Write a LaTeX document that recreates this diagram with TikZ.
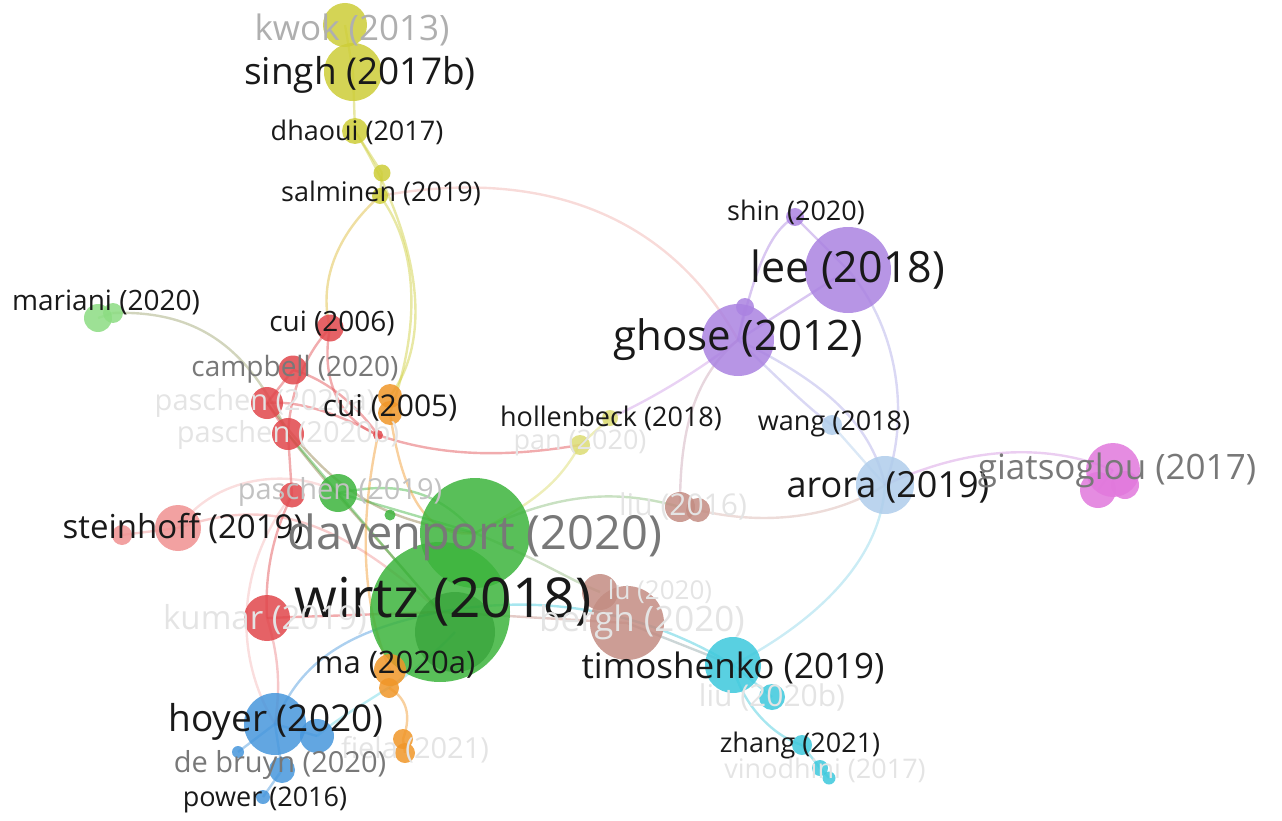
\documentclass[tikz,border=0pt]{standalone}
\usepackage{fontspec}
\setmainfont{Open Sans}
\newcommand\lfs[1]{\fontsize{#1}{#1}\selectfont}
\definecolor{cyel}{RGB}{205,205,55}
\definecolor{cpur}{RGB}{170,130,225}
\definecolor{clbl}{RGB}{175,205,235}
\definecolor{cpink}{RGB}{225,120,220}
\definecolor{cbrn}{RGB}{195,140,130}
\definecolor{ccyan}{RGB}{60,200,220}
\definecolor{cgrn}{RGB}{60,180,60}
\definecolor{cdgrn}{RGB}{40,150,45}
\definecolor{clgrn}{RGB}{140,220,130}
\definecolor{cred}{RGB}{225,70,75}
\definecolor{clred}{RGB}{240,145,145}
\definecolor{corg}{RGB}{240,150,40}
\definecolor{cblue}{RGB}{70,150,220}
\definecolor{tblk}{RGB}{25,25,25}
\definecolor{tgry}{RGB}{120,120,120}
\definecolor{tlgry}{RGB}{175,175,175}
\definecolor{tfnt}{RGB}{228,228,228}
\tikzset{
  bub/.style={circle,inner sep=0pt,draw=none,fill opacity=0.85,minimum size=#1},
  e/.style={line width=2.4pt,draw opacity=0.45},
  lbl/.style={inner sep=0pt,text=tblk},
}
\begin{document}
\begin{tikzpicture}[x=1pt,y=-1pt]
\useasboundingbox (0,0) rectangle (1282,821);
% ---- bubbles (positions only, drawn later) ----
\path
 (345,25) coordinate (p-kwok)
 (353,72) coordinate (p-singh)
 (355,131) coordinate (p-dhaoui)
 (382,173) coordinate (p-salm1)
 (380,196) coordinate (p-salm2)
 (610,418) coordinate (p-hollen)
 (580,445) coordinate (p-pan)
 (795,217) coordinate (p-shin)
 (848,270) coordinate (p-lee)
 (738,340) coordinate (p-ghose)
 (745,307) coordinate (p-ghose2)
 (832,425) coordinate (p-wang)
 (885,485) coordinate (p-arora)
 (1113,470) coordinate (p-giat)
 (1098,490) coordinate (p-giat2)
 (1125,485) coordinate (p-giat3)
 (680,507) coordinate (p-liu16)
 (698,510) coordinate (p-liu16b)
 (600,592) coordinate (p-brs)
 (627,623) coordinate (p-brb)
 (733,665) coordinate (p-timo)
 (772,697) coordinate (p-liu20b)
 (802,745) coordinate (p-zhang)
 (820,768) coordinate (p-vin1)
 (829,778) coordinate (p-vin2)
 (475,533) coordinate (p-dav)
 (440,612) coordinate (p-wirtz)
 (455,632) coordinate (p-wirtz2)
 (338,493) coordinate (p-pas19)
 (390,515) coordinate (p-sgrn)
 (98,318) coordinate (p-mar1)
 (113,313) coordinate (p-mar2)
 (330,328) coordinate (p-cui06)
 (293,370) coordinate (p-camp)
 (267,403) coordinate (p-pas20a)
 (288,434) coordinate (p-pas20b)
 (378,435) coordinate (p-sred)
 (292,495) coordinate (p-red495)
 (178,528) coordinate (p-stein)
 (122,535) coordinate (p-stein2)
 (267,618) coordinate (p-kumar)
 (390,396) coordinate (p-cui05a)
 (390,413) coordinate (p-cui05b)
 (390,670) coordinate (p-ma1)
 (389,688) coordinate (p-ma2)
 (403,739) coordinate (p-fie1)
 (405,753) coordinate (p-fie2)
 (275,724) coordinate (p-hoyer)
 (317,736) coordinate (p-hoyer2)
 (238,752) coordinate (p-bsm)
 (282,770) coordinate (p-debr)
 (263,797) coordinate (p-power);
% ---- edges ----
\draw[e,cyel] (p-kwok) -- (p-singh);
\draw[e,cyel] (p-singh) -- (p-dhaoui);
\draw[e,cyel] (p-dhaoui) -- (p-salm1);
\draw[e,cyel] (p-salm1) -- (p-salm2);
\draw[e,cyel] (p-dhaoui) .. controls (410,220) and (440,330) .. (p-cui05a);
\draw[e,cyel!60!corg] (p-salm2) .. controls (330,240) and (320,290) .. (p-cui06);
\draw[e,cyel] (p-salm2) .. controls (420,250) and (420,330) .. (p-cui05b);
\draw[e,corg!50!cpink,draw opacity=0.3] (p-salm2) .. controls (520,170) and (660,200) .. (p-ghose);
\draw[e,cpur!60!cpink,draw opacity=0.35] (p-hollen) .. controls (650,400) and (700,370) .. (p-ghose);
\draw[e,cyel,draw opacity=0.35] (p-hollen) -- (p-pan);
\draw[e,cyel,draw opacity=0.35] (p-pan) .. controls (560,480) and (540,500) .. (p-dav);
\draw[e,cred] (p-sred) .. controls (450,460) and (520,455) .. (p-pan);
\draw[e,cred] (p-cui06) .. controls (320,380) and (340,420) .. (p-sred);
\draw[e,cred] (p-cui06) .. controls (300,360) and (290,400) .. (p-pas20b);
\draw[e,cred] (p-camp) -- (p-pas20a);
\draw[e,cred] (p-camp) .. controls (330,380) and (360,410) .. (p-sred);
\draw[e,cred] (p-pas20a) .. controls (300,400) and (340,415) .. (p-sred);
\draw[e,cred] (p-pas20a) -- (p-pas20b);
\draw[e,cred] (p-pas20b) -- (p-red495);
\draw[e,cred!50!cgrn] (p-pas20b) .. controls (330,490) and (380,540) .. (p-wirtz);
\draw[e,cred!50!cgrn] (p-pas20a) .. controls (320,470) and (360,520) .. (p-dav);
\draw[e,cgrn] (p-pas20b) -- (p-pas19);
\draw[e,cgrn] (p-pas19) -- (p-dav);
\draw[e,cgrn] (p-pas19) -- (p-wirtz);
\draw[e,cgrn] (p-pas19) .. controls (380,485) and (430,480) .. (p-dav);
\draw[e,cred!40!cgrn,draw opacity=0.35] (p-mar2) .. controls (200,310) and (250,350) .. (p-pas20b);
\draw[e,clred] (p-stein) .. controls (260,500) and (330,510) .. (p-wirtz);
\draw[e,clred] (p-stein) -- (p-stein2);
\draw[e,clred,draw opacity=0.3] (p-stein) .. controls (220,470) and (300,470) .. (p-pas19);
\draw[e,cred] (p-red495) .. controls (270,540) and (265,580) .. (p-kumar);
\draw[e,cred] (p-kumar) -- (p-wirtz);
\draw[e,cred,draw opacity=0.3] (p-kumar) .. controls (280,660) and (280,690) .. (p-hoyer);
\draw[e,clred,draw opacity=0.3] (p-red495) .. controls (240,560) and (230,650) .. (p-hoyer);
\draw[e,corg] (p-sred) .. controls (360,520) and (360,600) .. (p-ma1);
\draw[e,corg] (p-cui05b) .. controls (400,480) and (420,540) .. (p-dav);
\draw[e,corg] (p-ma2) .. controls (410,700) and (410,720) .. (p-fie1);
\draw[e,corg] (p-fie1) -- (p-fie2);
\draw[e,cblue] (p-hoyer) .. controls (300,660) and (350,630) .. (p-wirtz);
\draw[e,cblue] (p-hoyer) -- (p-hoyer2);
\draw[e,cblue] (p-hoyer) -- (p-bsm);
\draw[e,cblue] (p-hoyer) -- (p-debr);
\draw[e,cblue] (p-debr) -- (p-power);
\draw[e,ccyan,draw opacity=0.35] (p-hoyer2) .. controls (360,700) and (400,690) .. (p-wirtz2);
\draw[e,cpur] (p-ghose) -- (p-ghose2);
\draw[e,cpur] (p-ghose) -- (p-lee);
\draw[e,cpur] (p-ghose) .. controls (755,270) and (770,230) .. (p-shin);
\draw[e,cpur] (p-shin) -- (p-lee);
\draw[e,cpur!50!clbl] (p-ghose) .. controls (780,380) and (810,410) .. (p-wang);
\draw[e,clbl] (p-wang) -- (p-arora);
\draw[e,cpur!50!clbl] (p-ghose) .. controls (820,380) and (870,420) .. (p-arora);
\draw[e,cpur!50!clbl] (p-lee) .. controls (900,330) and (910,420) .. (p-arora);
\draw[e,cbrn!70!cpur,draw opacity=0.35] (p-ghose) .. controls (690,380) and (680,440) .. (p-liu16);
\draw[e,cbrn,draw opacity=0.3] (p-liu16b) .. controls (760,525) and (830,520) .. (p-arora);
\draw[e,cpink!70!clbl] (p-arora) .. controls (960,450) and (1040,440) .. (p-giat);
\draw[e,cpink] (p-giat) -- (p-giat2);
\draw[e,ccyan!60!clbl,draw opacity=0.35] (p-arora) .. controls (880,570) and (800,630) .. (p-timo);
\draw[e,cgrn!70!cbrn,draw opacity=0.35] (p-dav) .. controls (560,490) and (620,490) .. (p-liu16);
\draw[e,cgrn!60!cbrn,draw opacity=0.35] (p-dav) .. controls (540,560) and (570,580) .. (p-brs);
\draw[e,ccyan] (p-wirtz) .. controls (560,590) and (660,620) .. (p-timo);
\draw[e,cbrn!60!ccyan] (p-brb) -- (p-timo);
\draw[e,cbrn] (p-wirtz) -- (p-brb);
\draw[e,ccyan] (p-timo) .. controls (740,700) and (770,735) .. (p-zhang);
\draw[e,ccyan] (p-timo) -- (p-liu20b);
\draw[e,ccyan] (p-zhang) -- (p-vin1);
\draw[e,ccyan] (p-vin1) -- (p-vin2);
\draw[e,clgrn] (p-mar1) -- (p-mar2);
% ---- bubbles ----
\node[bub=44pt,fill=cyel] (kwok) at (p-kwok) {};
\node[bub=58pt,fill=cyel] (singh) at (p-singh) {};
\node[bub=26pt,fill=cyel] (dhaoui) at (p-dhaoui) {};
\node[bub=17pt,fill=cyel] (salm1) at (p-salm1) {};
\node[bub=16pt,fill=cyel] (salm2) at (p-salm2) {};
\node[bub=16pt,fill=cyel!70!white] (hollen) at (p-hollen) {};
\node[bub=20pt,fill=cyel!70!white] (pan) at (p-pan) {};
\node[bub=18pt,fill=cpur] (shin) at (p-shin) {};
\node[bub=86pt,fill=cpur] (lee) at (p-lee) {};
\node[bub=72pt,fill=cpur] (ghose) at (p-ghose) {};
\node[bub=18pt,fill=cpur] (ghose2) at (p-ghose2) {};
\node[bub=20pt,fill=clbl] (wang) at (p-wang) {};
\node[bub=58pt,fill=clbl] (arora) at (p-arora) {};
\node[bub=54pt,fill=cpink] (giat) at (p-giat) {};
\node[bub=36pt,fill=cpink] (giat2) at (p-giat2) {};
\node[bub=28pt,fill=cpink] (giat3) at (p-giat3) {};
\node[bub=30pt,fill=cbrn] (liu16) at (p-liu16) {};
\node[bub=24pt,fill=cbrn] (liu16b) at (p-liu16b) {};
\node[bub=74pt,fill=cbrn] (brb) at (p-brb) {};
\node[bub=36pt,fill=cbrn] (brs) at (p-brs) {};
\node[bub=56pt,fill=ccyan] (timo) at (p-timo) {};
\node[bub=26pt,fill=ccyan] (liu20b) at (p-liu20b) {};
\node[bub=20pt,fill=ccyan] (zhang) at (p-zhang) {};
\node[bub=16pt,fill=ccyan] (vin1) at (p-vin1) {};
\node[bub=13pt,fill=ccyan] (vin2) at (p-vin2) {};
\node[bub=110pt,fill=cgrn] (dav) at (p-dav) {};
\node[bub=140pt,fill=cgrn] (wirtz) at (p-wirtz) {};
\node[bub=80pt,fill=cdgrn,fill opacity=0.5] (wirtz2) at (p-wirtz2) {};
\node[bub=38pt,fill=cgrn] (pas19) at (p-pas19) {};
\node[bub=11pt,fill=cgrn] (sgrn) at (p-sgrn) {};
\node[bub=28pt,fill=clgrn] (mar1) at (p-mar1) {};
\node[bub=20pt,fill=clgrn] (mar2) at (p-mar2) {};
\node[bub=27pt,fill=cred] (cui06) at (p-cui06) {};
\node[bub=29pt,fill=cred] (camp) at (p-camp) {};
\node[bub=32pt,fill=cred] (pas20a) at (p-pas20a) {};
\node[bub=32pt,fill=cred] (pas20b) at (p-pas20b) {};
\node[bub=10pt,fill=cred] (sred) at (p-sred) {};
\node[bub=25pt,fill=cred] (red495) at (p-red495) {};
\node[bub=46pt,fill=clred] (stein) at (p-stein) {};
\node[bub=20pt,fill=clred] (stein2) at (p-stein2) {};
\node[bub=46pt,fill=cred] (kumar) at (p-kumar) {};
\node[bub=24pt,fill=corg] (cui05a) at (p-cui05a) {};
\node[bub=24pt,fill=corg] (cui05b) at (p-cui05b) {};
\node[bub=32pt,fill=corg] (ma1) at (p-ma1) {};
\node[bub=20pt,fill=corg] (ma2) at (p-ma2) {};
\node[bub=20pt,fill=corg] (fie1) at (p-fie1) {};
\node[bub=20pt,fill=corg] (fie2) at (p-fie2) {};
\node[bub=62pt,fill=cblue] (hoyer) at (p-hoyer) {};
\node[bub=34pt,fill=cblue] (hoyer2) at (p-hoyer2) {};
\node[bub=12pt,fill=cblue] (bsm) at (p-bsm) {};
\node[bub=26pt,fill=cblue] (debr) at (p-debr) {};
\node[bub=14pt,fill=cblue] (power) at (p-power) {};
% ---- labels ----
\node[lbl,text=tlgry,font=\lfs{35}] at (352,30) {kwok (2013)};
\node[lbl,font=\lfs{37}] at (360,75) {singh (2017b)};
\node[lbl,font=\lfs{27}] at (357,132) {dhaoui (2017)};
\node[lbl,font=\lfs{27}] at (381,193) {salminen (2019)};
\node[lbl,font=\lfs{27}] at (796,212) {shin (2020)};
\node[lbl,font=\lfs{43}] at (848,270) {lee (2018)};
\node[lbl,font=\lfs{42}] at (738,340) {ghose (2012)};
\node[lbl,font=\lfs{27}] at (834,424) {wang (2018)};
\node[lbl,font=\lfs{36}] at (888,487) {arora (2019)};
\node[lbl,text=tgry,font=\lfs{35}] at (1117,470) {giatsoglou (2017)};
\node[lbl,font=\lfs{27}] at (611,418) {hollenbeck (2018)};
\node[lbl,text=tfnt,font=\lfs{27}] at (580,443) {pan (2020)};
\node[lbl,text=tfnt,font=\lfs{30}] at (683,506) {liu (2016)};
\node[lbl,font=\lfs{28}] at (106,302) {mariani (2020)};
\node[lbl,font=\lfs{28}] at (332,323) {cui (2006)};
\node[lbl,text=tgry,font=\lfs{28}] at (295,369) {campbell (2020)};
\node[lbl,text=tfnt,font=\lfs{29}] at (265,403) {paschen (2020a)};
\node[lbl,text=tfnt,font=\lfs{29}] at (288,435) {paschen (2020b)};
\node[lbl,font=\lfs{30}] at (390,408) {cui (2005)};
\node[lbl,text=tfnt!85!black,font=\lfs{29}] at (340,492) {paschen (2019)};
\node[lbl,font=\lfs{33}] at (183,528) {steinhoff (2019)};
\node[lbl,text=tgry,font=\lfs{47}] at (475,537) {davenport (2020)};
\node[lbl,font=\lfs{55}] at (443,602) {wirtz (2018)};
\node[lbl,text=tfnt,font=\lfs{33}] at (265,620) {kumar (2019)};
\node[lbl,text=tfnt,font=\lfs{26}] at (660,592) {lu (2020)};
\node[lbl,text=tfnt,font=\lfs{35}] at (642,622) {bergh (2020)};
\node[lbl,font=\lfs{35}] at (733,668) {timoshenko (2019)};
\node[lbl,text=tfnt,font=\lfs{30}] at (772,697) {liu (2020b)};
\node[lbl,font=\lfs{27}] at (800,745) {zhang (2021)};
\node[lbl,text=tfnt,font=\lfs{27}] at (825,770) {vinodhini (2017)};
\node[lbl,font=\lfs{37}] at (276,722) {hoyer (2020)};
\node[lbl,font=\lfs{31}] at (395,665) {ma (2020a)};
\node[lbl,text=tfnt,font=\lfs{29}] at (415,750) {fiela (2021)};
\node[lbl,text=tgry,font=\lfs{29}] at (280,765) {de bruyn (2020)};
\node[lbl,font=\lfs{27}] at (265,800) {power (2016)};
\end{tikzpicture}
\end{document}
